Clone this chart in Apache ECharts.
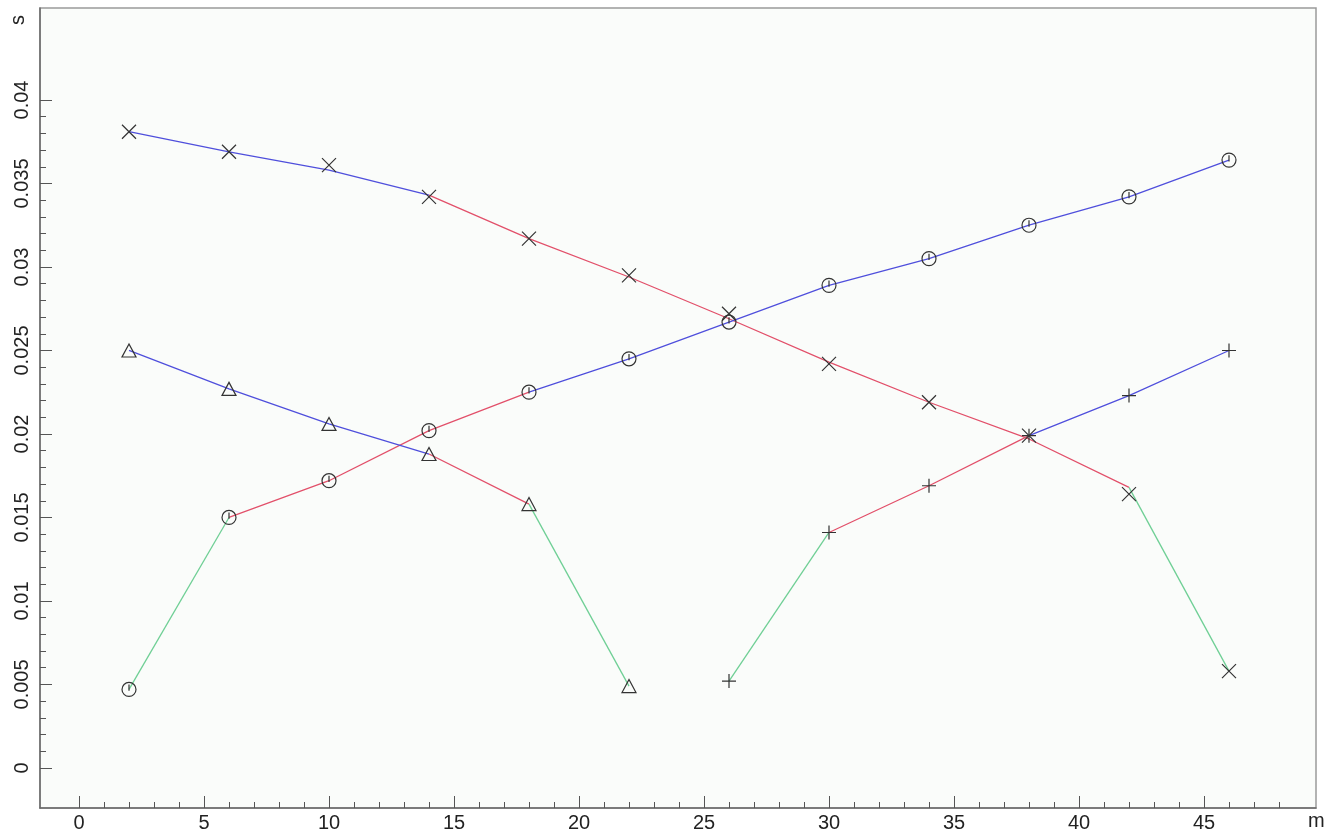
<!DOCTYPE html>
<html><head><meta charset="utf-8">
<script src="https://cdn.jsdelivr.net/npm/echarts@6/dist/echarts.min.js"></script>
<style>html,body{margin:0;padding:0;background:#fff}#c{width:1326px;height:835px}</style>
</head><body><div id="c"></div>
<script>
// ---- data ----
const crossX = [2, 6, 10, 14, 18, 22, 26, 30, 34, 38, 42, 46];
const crossMarks = [0.0381, 0.0369, 0.0361, 0.0342, 0.0317, 0.0295, 0.0272, 0.0242, 0.0219, 0.0199, 0.0164, 0.0058];
const crossLine  = [0.0381, 0.0369, 0.0358, 0.0343, 0.0317, 0.0294, 0.0269, 0.0243, 0.0219, 0.0197, 0.0168, 0.0058];
const circleX = [2, 6, 10, 14, 18, 22, 26, 30, 34, 38, 42, 46];
const circleMarks = [0.0047, 0.0150, 0.0172, 0.0202, 0.0225, 0.0245, 0.0267, 0.0289, 0.0305, 0.0325, 0.0342, 0.0364];
const triangleX = [2, 6, 10, 14, 18, 22];
const triangleMarks = [0.0250, 0.0227, 0.0206, 0.0188, 0.0158, 0.0049];
const plusX = [26, 30, 34, 38, 42, 46];
const plusMarks = [0.0052, 0.0141, 0.0169, 0.0199, 0.0223, 0.0250];
const xUnit = 'm';
const yUnit = 's';
// tick ranges of the axes
const xTicks = { min: 0, max: 45, step: 5, minorMax: 48, minorStep: 1 };
const yTicks = { min: 0, max: 0.04, step: 0.005, minorStep: 0.001 };

// ---- styling / layout ----
const W = 1326, H = 835;
const PL = 40, PR = 10, PT = 8, PB = 27;           // plot frame
const XMIN = -1.56, XMAX = 49.48, YMIN = -0.0024, YMAX = 0.04551;
const px = v => PL + (v - XMIN) / (XMAX - XMIN) * (W - PL - PR);
const py = v => PT + (YMAX - v) / (YMAX - YMIN) * (H - PT - PB);

const COL = { blue: '#4f4fdc', red: '#e2506a', green: '#6fcf95' };
const curves = [
  { x: crossX, line: crossLine, marks: crossMarks, symbol: 'path://M0,0L10,10M10,0L0,10', size: 14,
    segs: [[0, 3, 'blue'], [3, 10, 'red'], [10, 11, 'green']] },
  { x: circleX, line: circleMarks, marks: circleMarks, symbol: 'path://M5,0A5,5 0 1,1 5,10A5,5 0 1,1 5,0M5,1.5L5,6', size: 14,
    segs: [[0, 1, 'green'], [1, 4, 'red'], [4, 11, 'blue']] },
  { x: triangleX, line: triangleMarks, marks: triangleMarks, symbol: 'path://M5,0L10,9L0,9Z', size: [14, 13],
    segs: [[0, 3, 'blue'], [3, 4, 'red'], [4, 5, 'green']] },
  { x: plusX, line: plusMarks, marks: plusMarks, symbol: 'path://M5,0L5,10M0,5L10,5', size: 14,
    segs: [[0, 1, 'green'], [1, 3, 'red'], [3, 5, 'blue']] }
];

const series = [];
curves.forEach(c => {
  c.segs.forEach(([a, b, col]) => {
    const d = [];
    for (let i = a; i <= b; i++) d.push([c.x[i], c.line[i]]);
    series.push({ type: 'line', xAxisIndex: 0, yAxisIndex: 0, data: d, symbol: 'none', silent: true,
      lineStyle: { color: COL[col], width: 1.3 }, z: 2, animation: false });
  });
});
curves.forEach(c => {
  series.push({ type: 'scatter', xAxisIndex: 0, yAxisIndex: 0,
    data: c.x.map((x, i) => [x, c.marks[i]]), symbol: c.symbol, symbolSize: c.size,
    itemStyle: { color: 'transparent', borderColor: '#333333', borderWidth: 1.2, opacity: 1 },
    z: 3, animation: false });
});

const tickCol = '#555';
const font = 'Liberation Sans, Arial, sans-serif';
const base = { outerBoundsMode: 'none', containLabel: false };
const chart = echarts.init(document.getElementById('c'), null, { renderer: 'canvas' });
chart.setOption({
  animation: false,
  backgroundColor: '#ffffff',
  grid: [
    Object.assign({ left: PL, right: PR, top: PT, bottom: PB, show: true, backgroundColor: '#fafcfa', borderColor: '#9a9a9a', borderWidth: 1.5 }, base),
    Object.assign({ left: px(xTicks.min), right: W - px(xTicks.minorMax), top: PT, bottom: PB }, base),
    Object.assign({ left: px(xTicks.min), right: W - px(xTicks.max), top: PT, bottom: PB }, base),
    Object.assign({ left: PL, right: PR, top: py(yTicks.max), bottom: H - py(yTicks.min) }, base)
  ],
  xAxis: [
    { type: 'value', gridIndex: 0, min: XMIN, max: XMAX,
      axisLine: { show: true, onZero: false, lineStyle: { color: '#6a6a6a', width: 1.5 } },
      axisTick: { show: false }, axisLabel: { show: false }, splitLine: { show: false } },
    { type: 'value', gridIndex: 1, min: xTicks.min, max: xTicks.minorMax, interval: xTicks.minorStep,
      axisLine: { show: false, onZero: false },
      axisTick: { show: true, inside: true, length: 6, lineStyle: { color: tickCol } },
      axisLabel: { show: false }, splitLine: { show: false } },
    { type: 'value', gridIndex: 2, min: xTicks.min, max: xTicks.max, interval: xTicks.step,
      axisLine: { show: false, onZero: false },
      axisTick: { show: true, inside: true, length: 12, lineStyle: { color: tickCol } },
      axisLabel: { fontFamily: font, fontSize: 20, color: '#222', margin: 5 },
      splitLine: { show: false } },
    { type: 'value', gridIndex: 3, min: 0, max: 1, show: false }
  ],
  yAxis: [
    { type: 'value', gridIndex: 0, min: YMIN, max: YMAX,
      axisLine: { show: true, onZero: false, lineStyle: { color: '#6a6a6a', width: 1.5 } },
      axisTick: { show: false }, axisLabel: { show: false }, splitLine: { show: false } },
    { type: 'value', gridIndex: 1, min: 0, max: 1, show: false },
    { type: 'value', gridIndex: 2, min: 0, max: 1, show: false },
    { type: 'value', gridIndex: 3, position: 'left', min: yTicks.min, max: yTicks.max, interval: yTicks.step,
      axisLine: { show: false, onZero: false },
      axisTick: { show: true, inside: true, length: 12, lineStyle: { color: tickCol } },
      axisLabel: { fontFamily: font, fontSize: 20, color: '#222', margin: 8, rotate: 90 },
      splitLine: { show: false } },
    { type: 'value', gridIndex: 3, position: 'left', offset: 0, min: yTicks.min, max: yTicks.max, interval: yTicks.minorStep,
      axisLine: { show: false, onZero: false },
      axisTick: { show: true, inside: true, length: 6, lineStyle: { color: tickCol } },
      axisLabel: { show: false }, splitLine: { show: false } }
  ],
  graphic: [
    { type: 'text', x: 1308, y: 811, style: { text: xUnit, fontFamily: font, fontSize: 20, fill: '#222' } },
    { type: 'text', x: 8, y: 25, rotation: Math.PI / 2, style: { text: yUnit, fontFamily: font, fontSize: 20, fill: '#222' } }
  ],
  series: series
});
</script></body></html>
